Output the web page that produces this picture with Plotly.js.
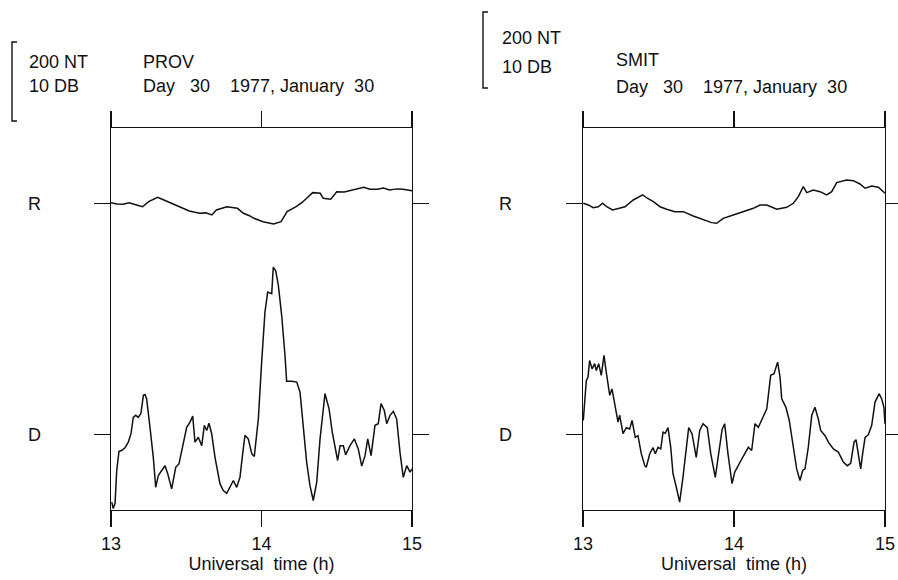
<!DOCTYPE html>
<html>
<head>
<meta charset="utf-8">
<script src="https://cdn.plot.ly/plotly-3.0.1.min.js"></script>
<style>html,body{margin:0;padding:0;background:#fff;}#chart{width:898px;height:580px;}</style>
</head>
<body>
<div id="chart"></div>
<script>
// ---- Data ----
// PROV station: riometer R (dB deviation) and magnetometer D (nT deviation), UT hours
const provR_t = [13.0,13.04,13.08,13.12,13.17,13.21,13.25,13.28,13.31,13.34,13.39,13.43,13.46,13.52,13.55,13.59,13.63,13.67,13.70,13.74,13.77,13.84,13.88,13.92,13.95,14.01,14.05,14.08,14.13,14.17,14.23,14.27,14.30,14.34,14.39,14.41,14.46,14.50,14.55,14.59,14.63,14.68,14.72,14.77,14.81,14.85,14.90,14.94,15.0];
const provR_v = [0.08,-0.1,-0.13,0.05,-0.21,-0.43,0.2,0.5,0.75,0.5,0.08,-0.2,-0.43,-0.96,-1.1,-1.25,-1.2,-1.46,-0.84,-0.6,-0.43,-0.63,-1.25,-1.55,-1.88,-2.3,-2.45,-2.59,-2.3,-1.05,-0.43,0.1,0.63,1.33,1.25,0.63,0.5,1.45,1.4,1.58,1.7,2.0,1.75,1.75,1.9,1.66,1.8,1.75,1.58];
const provD_t = [13.005,13.015,13.027,13.038,13.053,13.071,13.093,13.115,13.133,13.148,13.164,13.181,13.199,13.215,13.226,13.237,13.259,13.281,13.297,13.314,13.337,13.359,13.377,13.403,13.43,13.452,13.48,13.503,13.525,13.543,13.558,13.58,13.603,13.62,13.636,13.651,13.669,13.691,13.724,13.746,13.769,13.791,13.813,13.835,13.857,13.872,13.89,13.912,13.935,13.952,13.979,14.001,14.023,14.041,14.068,14.078,14.094,14.112,14.134,14.156,14.167,14.201,14.234,14.256,14.278,14.3,14.322,14.344,14.367,14.389,14.422,14.449,14.47,14.488,14.506,14.522,14.544,14.559,14.588,14.617,14.643,14.666,14.688,14.706,14.728,14.754,14.776,14.794,14.816,14.832,14.854,14.876,14.898,14.92,14.942,14.965,14.987,15.0];
const provD_v = [-169,-185,-172,-90,-42,-40,-33,-19,2,43,48,43,53,98,100,89,18,-57,-132,-103,-90,-78,-98,-136,-82,-73,-23,18,31,46,-19,-7,-28,23,10,28,2,-57,-123,-140,-147,-132,-115,-132,-107,-57,-2,-11,-48,-55,39,181,306,356,352,418,410,373,298,198,133,133,131,106,14,-69,-128,-165,-119,-11,102,64,6,-32,-65,-28,-28,-51,-28,-11,-36,-79,-53,-11,-53,23,27,77,60,27,48,58,39,-44,-107,-78,-94,-86];

// SMIT station
const smitR_t = [13.002,13.035,13.068,13.101,13.13,13.157,13.196,13.234,13.278,13.333,13.395,13.426,13.466,13.51,13.554,13.609,13.664,13.73,13.797,13.852,13.885,13.929,13.995,14.062,14.128,14.172,14.217,14.283,14.349,14.393,14.426,14.459,14.482,14.525,14.57,14.614,14.647,14.68,14.746,14.79,14.834,14.868,14.912,14.956,15.0];
const smitR_v = [0.0,-0.21,-0.55,-0.43,0.0,-0.43,-0.84,-0.63,-0.43,0.41,1.04,0.63,0.2,-0.43,-0.75,-1.05,-1.05,-1.59,-2.09,-2.42,-2.5,-1.88,-1.46,-1.05,-0.63,-0.21,-0.21,-0.75,-0.5,0.0,0.83,2.08,1.33,1.66,1.45,1.04,1.45,2.58,2.91,2.83,2.41,1.88,2.16,2.0,1.25];
const smitD_t = [13.002,13.011,13.022,13.033,13.044,13.06,13.077,13.088,13.104,13.121,13.139,13.154,13.177,13.192,13.21,13.232,13.243,13.265,13.287,13.309,13.325,13.346,13.364,13.386,13.409,13.419,13.442,13.464,13.479,13.497,13.515,13.53,13.545,13.563,13.581,13.596,13.618,13.64,13.662,13.68,13.7,13.722,13.75,13.773,13.795,13.823,13.846,13.876,13.899,13.921,13.938,13.96,13.987,14.005,14.046,14.079,14.095,14.117,14.139,14.161,14.183,14.217,14.243,14.265,14.289,14.305,14.316,14.344,14.366,14.393,14.415,14.437,14.455,14.47,14.492,14.515,14.536,14.558,14.574,14.603,14.625,14.658,14.691,14.724,14.75,14.773,14.795,14.808,14.823,14.839,14.852,14.868,14.889,14.912,14.934,14.945,14.962,14.978,14.993,15.0];
const smitD_v = [35,81,135,143,185,164,177,160,177,148,198,156,98,114,77,31,48,2,17,14,35,-7,-3,-48,-78,-82,-48,-33,-48,-32,-36,6,3,17,-32,-98,-132,-169,-107,-40,17,2,-57,10,27,17,-48,-107,-48,12,27,-48,-123,-94,-65,-40,-32,-40,27,18,35,64,148,152,181,143,89,68,35,-32,-86,-115,-90,-86,-32,48,68,39,10,-3,-19,-36,-44,-69,-78,-72,-19,-13,-48,-86,-48,-7,-1,23,81,89,102,89,68,27];

const xTicks = [13, 14, 15];
const xTickText = ['13', '14', '15'];

// ---- Layout helpers (pixel -> paper) ----
const W = 898, H = 580;
const px = v => v / W;
const py = v => 1 - v / H;
const FONT = 'Liberation Sans, Arial, sans-serif';
const FS = 18;
const nb = n => '\u00a0'.repeat(n);

const lineStyle = {color: '#111', width: 1.5};
const traces = [
  {x: provR_t, y: provR_v, xaxis: 'x', yaxis: 'y2', mode: 'lines', line: lineStyle, hoverinfo: 'skip'},
  {x: provD_t, y: provD_v, xaxis: 'x', yaxis: 'y', mode: 'lines', line: lineStyle, hoverinfo: 'skip'},
  {x: smitR_t, y: smitR_v, xaxis: 'x2', yaxis: 'y4', mode: 'lines', line: lineStyle, hoverinfo: 'skip'},
  {x: smitD_t, y: smitD_v, xaxis: 'x2', yaxis: 'y3', mode: 'lines', line: lineStyle, hoverinfo: 'skip'}
];

const yDom = [1 - 510 / H, 1 - 128 / H];
// D axis: 2.5 nT per pixel; R axis: 0.125 dB per pixel
const dRange = [-188.75, 766.25];
const rRange = [-38.34, 9.41];

function xAx(domain, anchor) {
  return {
    domain: domain, anchor: anchor, range: [13, 15],
    tickmode: 'array', tickvals: xTicks, ticktext: xTickText,
    ticks: 'outside', ticklen: 16, tickwidth: 1.2, tickcolor: '#111',
    showline: true, linewidth: 1.2, linecolor: '#111', mirror: 'ticks',
    showgrid: false, zeroline: false,
    tickfont: {family: FONT, size: FS, color: '#111'},
    ticklabelstandoff: 1,
    title: {text: 'Universal' + nb(2) + 'time (h)', font: {family: FONT, size: FS, color: '#111'}, standoff: 1}
  };
}
function yAx(range, anchor, overlaying) {
  const a = {
    domain: yDom, anchor: anchor, range: range,
    tickmode: 'array', tickvals: [0], ticktext: [''],
    ticks: 'outside', ticklen: 16, tickwidth: 1.1, tickcolor: '#111',
    showline: true, linewidth: 1.2, linecolor: '#111', mirror: 'ticks',
    showgrid: false, zeroline: false, showticklabels: false
  };
  if (overlaying) a.overlaying = overlaying;
  return a;
}

const ann = (x, y, text, anchor) => ({
  xref: 'paper', yref: 'paper', x: px(x), y: py(y), text: text,
  xanchor: anchor || 'left', yanchor: 'middle', showarrow: false,
  font: {family: FONT, size: FS, color: '#111'}
});

const annotations = [
  ann(27, 62, '200 NT'), ann(27, 86, '10 DB'),
  ann(141, 62, 'PROV'), ann(141, 86, 'Day' + nb(3) + '30' + nb(4) + '1977, January' + nb(2) + '30'),
  ann(500, 38, '200 NT'), ann(500, 67, '10 DB'),
  ann(614, 60, 'SMIT'), ann(614, 87, 'Day' + nb(3) + '30' + nb(4) + '1977, January' + nb(2) + '30'),
  ann(34, 204, 'R', 'center'), ann(34, 435, 'D', 'center'),
  ann(505, 204, 'R', 'center'), ann(505, 435, 'D', 'center')
];

const bracket = (x, y0, y1) => ({
  type: 'path', xref: 'paper', yref: 'paper',
  path: `M ${px(x + 5)} ${py(y0)} L ${px(x)} ${py(y0)} L ${px(x)} ${py(y1)} L ${px(x + 5)} ${py(y1)}`,
  line: {color: '#111', width: 1.4}
});

const layout = {
  width: W, height: H,
  margin: {l: 0, r: 0, t: 0, b: 0},
  paper_bgcolor: '#fff', plot_bgcolor: 'rgba(0,0,0,0)',
  showlegend: false,
  xaxis: xAx([111 / W, 412 / W], 'y'),
  yaxis: yAx(dRange, 'x'),
  yaxis2: yAx(rRange, 'x', 'y'),
  xaxis2: xAx([583 / W, 885 / W], 'y3'),
  yaxis3: yAx(dRange, 'x2'),
  yaxis4: yAx(rRange, 'x2', 'y3'),
  annotations: annotations,
  shapes: [bracket(12, 42, 121), bracket(483, 12, 88)]
};

Plotly.newPlot('chart', traces, layout, {staticPlot: true, displayModeBar: false});
</script>
</body>
</html>
